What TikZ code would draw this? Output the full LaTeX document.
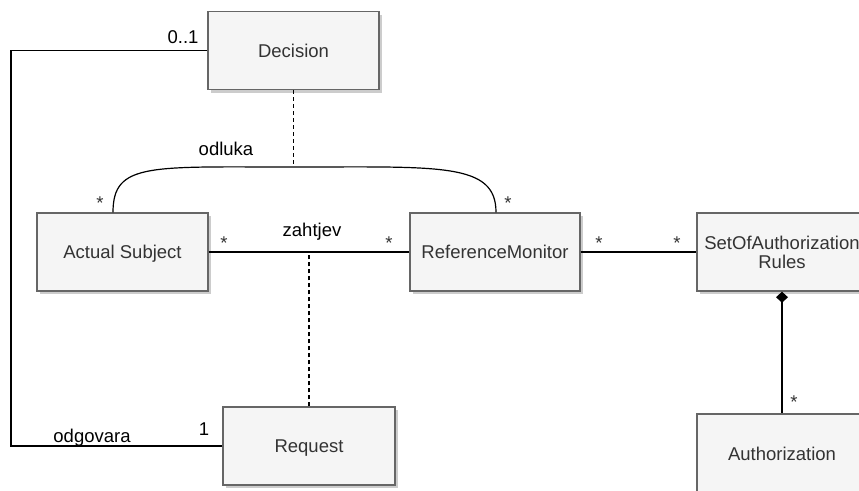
\documentclass[tikz,border=0pt]{standalone}
\usepackage{fontspec}
\setmainfont{Liberation Sans}
\usetikzlibrary{arrows.meta,shadows,calc}
\definecolor{boxfill}{HTML}{F5F5F5}
\definecolor{boxline}{HTML}{666666}
\definecolor{boxtext}{HTML}{333333}
\tikzset{
  umlclass/.style={draw=boxline, line width=1.4pt, fill=boxfill, text=boxtext,
    minimum width=171pt, minimum height=78pt, inner sep=0pt, align=center,
    text height=13.3pt, text depth=0pt,
    drop shadow={shadow xshift=3pt, shadow yshift=-3pt, fill=black!20, opacity=1}},
  conn/.style={line width=1.2pt, black},
  dashconn/.style={line width=1.3pt, black, dash pattern=on 4pt off 3pt},
  lbl/.style={inner sep=0pt, text=black},
  mult/.style={inner sep=0pt, text=boxtext}
}
\begin{document}
\begin{tikzpicture}[x=1pt,y=-1pt,font=\fontsize{18.5}{19}\selectfont]
\useasboundingbox (0,0) rectangle (859,490);
\clip (0,0) rectangle (859,490);
% nodes
\node[umlclass] (dec) at (293.5,50.5) {Decision};
\node[umlclass] (as) at (122.5,252) {Actual Subject};
\node[umlclass, minimum width=170pt] (rm) at (495,252) {ReferenceMonitor};
\node[umlclass, minimum width=170pt, text height={}, text depth={}] (sr) at (782,252) {SetOfAuthorization\\Rules};
\node[umlclass, minimum width=172pt] (req) at (309,446) {Request};
\node[umlclass, minimum width=170pt, minimum height=80pt] (auth) at (782,454) {Authorization};
% helper coordinates
\coordinate (L) at (11,0);
\coordinate (peak) at (293.5,167);
\coordinate (mid) at (309,252);
% connectors
\draw[conn] (dec.west) -| (L |- req.west) -- (req.west);
\draw[conn] (as.east) -- (rm.west);
\draw[conn] (rm.east) -- (sr.west);
\draw[conn, {Diamond[length=11pt,width=12pt]}-] (sr.south) -- (auth.north);
\draw[conn] ([xshift=-9.5pt]as.north) .. controls ([xshift=-9.5pt,yshift=50pt]as.north) and (150,167) .. (peak)
  .. controls (440,167) and ([xshift=1pt,yshift=50pt]rm.north) .. ([xshift=1pt]rm.north);
\draw[dashconn] (dec.south) -- (peak);
\draw[dashconn] (req.north) -- (mid);
% labels
\node[lbl, anchor=base] at (183,43) {0..1};
\node[lbl, anchor=base] at (226,155) {odluka};
\node[lbl, anchor=base] at (312,236) {zahtjev};
\node[lbl, anchor=base] at (92,442) {odgovara};
\node[lbl, anchor=base] at (204,435) {1};
\node[mult] at (100,203) {*};
\node[mult] at (508,203) {*};
\node[mult] at (224,243) {*};
\node[mult] at (389,243) {*};
\node[mult] at (599,243) {*};
\node[mult] at (677,243) {*};
\node[mult] at (794,402) {*};
\end{tikzpicture}
\end{document}
